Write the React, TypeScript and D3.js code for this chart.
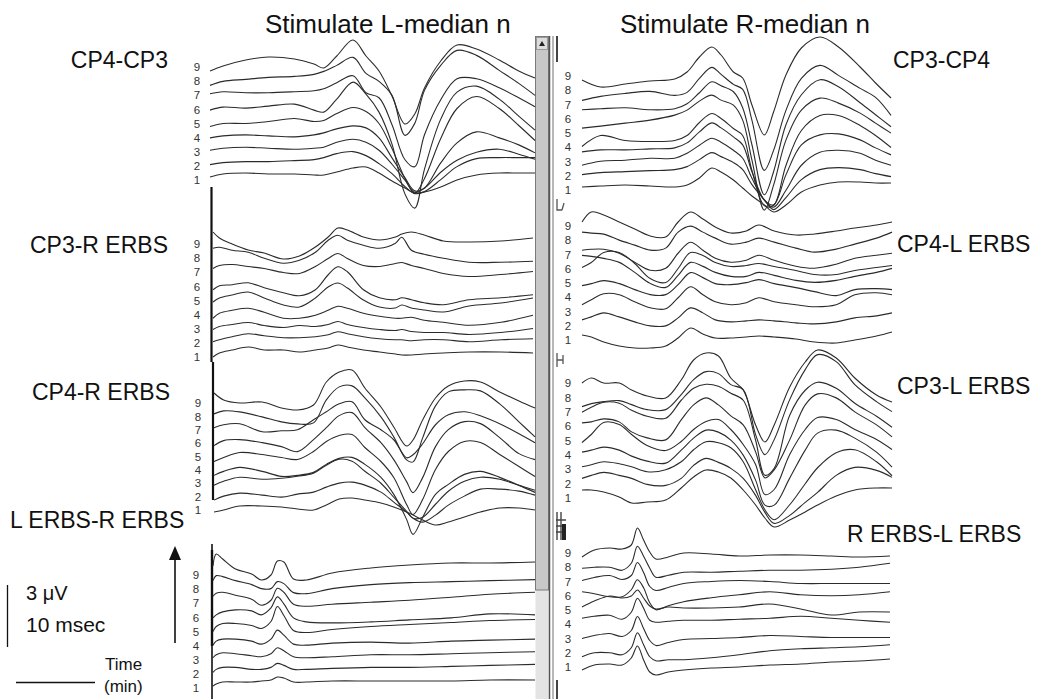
import React from "react";
import * as d3 from "d3";

// trace numbers, top to bottom
const TRACE_IDS = [9, 8, 7, 6, 5, 4, 3, 2, 1];

// sample times (ms) of the read-off knots, per panel
const tL1 = [0, 4, 11, 18, 26, 32, 35, 39, 44, 48, 52, 56, 60, 63, 66, 71, 76, 82, 89, 95, 100];
const tL2 = [0, 2, 6, 11, 16, 22, 27, 32, 36, 39, 42, 47, 52, 57, 59, 62, 66, 72, 80, 90, 100];
const tL3 = [0, 3, 8, 15, 21, 26, 31, 35, 39, 43, 47, 52, 56, 60, 62, 65, 69, 73, 78, 83, 89, 95, 100];
const tL4 = [0, 1, 3, 7, 12, 15, 18, 20, 22, 25, 29, 37, 49, 61, 74, 86, 100];
const tR1 = [0, 6, 14, 22, 30, 34, 38, 42, 45, 49, 52, 55, 59, 62, 66, 71, 77, 83, 90, 95, 100];
const tR2 = [0, 3, 7, 12, 17, 22, 27, 31, 35, 39, 43, 48, 53, 57, 62, 69, 75, 82, 88, 95, 100];
const tR3 = [0, 3, 7, 12, 16, 21, 27, 32, 36, 40, 44, 48, 52, 56, 59, 62, 67, 72, 76, 82, 88, 95, 100];
const tR4 = [0, 4, 9, 13, 16, 18, 20, 22, 24, 28, 33, 42, 51, 61, 71, 81, 90, 100];

// amplitudes in 0.05 uV steps (60 = 3 uV), positive up; rows = traces 9..1
const cp4cp3 = [
  [-3, 2, 8, 11, 9, 4, 0, 12, 28, 12, -3, -28, -56, -46, -20, 7, 23, 19, 8, -3, -10],
  [-4, 0, 2, 4, 5, 7, 10, 16, 24, 8, 0, -14, -54, -42, -9, 16, 31, 26, 11, -2, -14],
  [1, 3, 2, 2, 3, 4, 6, 12, 19, 2, -3, -30, -65, -72, -40, -5, 16, 16, 7, -3, -12],
  [-2, 1, 0, 2, 4, -2, -4, 9, 26, 14, -4, -36, -86, -100, -61, -11, 16, 22, 9, -8, -22],
  [-5, -2, -2, 0, 3, 0, 1, 8, 14, 10, -2, -27, -57, -72, -57, -17, 13, 25, 13, -4, -19],
  [-3, -1, 0, -1, -2, 0, 2, 6, 9, 7, -3, -23, -43, -56, -53, -28, -8, 3, -3, -10, -18],
  [-2, 0, 1, 0, -1, 0, 1, 6, 9, 6, -2, -16, -32, -44, -40, -24, -12, -4, -1, -6, -11],
  [-3, -1, 0, 0, 1, 2, 4, 8, 10, 6, -2, -12, -25, -32, -30, -18, -5, 3, 4, 4, 4],
  [-2, 1, 2, 1, 1, 0, 0, 3, 7, 8, 2, -6, -13, -18, -17, -12, -5, 0, 2, 2, 2],
];
const cp3RErbs = [
  [9, 3, -3, -9, -12, -18, -15, -6, 4, 13, 11, 4, 1, 4, 7, 9, 6, 0, -1, 0, 3],
  [7, 8, 5, 3, -3, -8, -5, 3, 15, 20, 15, 10, 7, 12, 18, 5, 1, -3, -7, -7, -6],
  [1, 4, 5, 3, 1, -3, -4, 3, 11, 16, 11, 4, 3, 6, 7, 4, 1, -4, -7, -5, -2],
  [-6, -2, -1, 1, -4, -9, -12, -6, 9, 17, 12, -6, -14, -16, -14, -16, -19, -21, -16, -14, -11],
  [-4, 0, 3, 6, 0, -7, -9, 0, 11, 15, 10, -2, -9, -10, -7, -10, -12, -14, -8, -5, 0],
  [-6, -1, 2, 4, 0, -6, -6, -3, 2, 6, 4, -1, -4, -6, -6, -5, -8, -10, -13, -10, -3],
  [-3, 0, 2, 4, 1, -1, 1, 0, 2, 5, 2, -1, -3, -4, -3, -5, -6, -6, -8, -6, -2],
  [-1, 1, 4, 7, 5, 3, 3, 4, 6, 9, 7, 4, 2, 1, 1, 0, 1, 1, -1, 1, 2],
  [-2, 2, 5, 8, 5, 5, 3, 5, 7, 10, 8, 5, 3, 1, 0, 0, 1, 2, 3, 3, 2],
];
const cp4RErbs = [
  [7, 0, -3, -2, -8, -10, -5, 18, 28, 30, 12, -7, -27, -46, -40, -20, 2, 14, 19, 18, 8, -1, -8],
  [0, 3, 2, -3, -8, -10, -9, 14, 27, 28, 16, -3, -23, -46, -48, -24, 8, 22, 24, 23, 10, -8, -23],
  [0, 3, 4, -4, -3, -2, 8, 16, 24, 26, 8, -2, -12, -30, -27, -16, 3, 13, 16, 12, 4, -6, -15],
  [-4, 1, 2, -1, -5, -10, 2, 14, 26, 29, 14, -1, -18, -40, -51, -36, -5, 12, 20, 18, 4, -12, -18],
  [-6, -2, 3, 1, -2, -4, 4, 14, 20, 21, 8, -6, -22, -49, -59, -44, -14, 4, 14, 13, 1, -11, -21],
  [-6, -2, 2, -2, -7, -6, -3, 5, 11, 12, 5, -8, -25, -50, -65, -48, -25, -15, -5, -2, -8, -16, -23],
  [-2, 2, 6, 4, 5, 7, 10, 18, 24, 22, 12, 0, -14, -28, -35, -34, -21, -8, 2, 6, 4, -2, -7],
  [-3, 1, 4, 2, 0, 3, 5, 10, 14, 15, 12, 5, -5, -15, -21, -25, -18, -8, 1, 8, 8, 6, 2],
  [-1, 1, 5, 5, 4, 2, 1, 6, 12, 13, 11, 8, 4, -1, -4, -9, -14, -11, -6, -1, 3, 3, 1],
];
const lErbsRErbs = [
  [7, 19, 14, 4, -1, -7, -2, 12, 11, -6, -7, 0, 5, 8, 10, 10, 11],
  [6, 11, 10, 6, 2, -2, -2, 5, 3, -6, -7, -2, 2, 4, 5, 6, 7],
  [4, 7, 8, 5, 1, -5, 0, 12, 8, -4, -6, -4, -2, 0, 3, 6, 8],
  [-4, -1, 2, 4, 3, -1, 6, 17, 10, -4, -8, -9, -8, -6, -4, 0, -1],
  [-4, 1, 4, 4, 2, -1, 6, 21, 12, -3, -5, -2, 1, 3, 5, 7, 8],
  [-4, 0, 2, 2, 0, -3, 2, 11, 6, -3, -4, -2, -1, -2, 0, 1, 2],
  [-3, 0, 2, 1, -1, -2, 1, 7, 4, -2, -3, -2, 0, 0, 1, 2, 3],
  [-4, -1, 1, 1, -1, -1, 1, 5, 3, -1, -1, 0, 1, 1, 2, 3, 4],
  [-4, -2, 0, 0, 0, 1, 2, 5, 4, 0, 0, 1, 1, 1, 1, 2, 2],
];
const cp3cp4 = [
  [0, -7, -4, -1, 1, 8, 23, 33, 25, 8, 2, -25, -55, -32, 5, 32, 43, 33, 13, -3, -18],
  [-7, -3, 0, 2, -2, 1, 15, 26, 19, 9, 4, -27, -77, -57, -17, 15, 28, 18, 5, -4, -22],
  [-3, -2, -1, -3, -2, 3, 14, 25, 21, 15, -1, -38, -88, -65, -18, 12, 27, 20, 4, -8, -20],
  [-8, -6, -3, 0, 5, 10, 19, 25, 20, 15, 0, -40, -90, -65, -20, 10, 22, 17, 7, -3, -13],
  [-13, -2, -7, -8, -7, -2, 11, 20, 15, 5, -2, -37, -72, -72, -32, 3, 18, 18, 8, -2, -14],
  [-5, -3, -3, -2, -1, 4, 15, 24, 19, 10, 2, -25, -53, -58, -28, 2, 12, 13, 7, -1, -8],
  [-5, -1, 0, 2, 2, 7, 15, 22, 18, 10, 2, -18, -40, -47, -30, -5, 8, 10, 7, 0, -5],
  [-1, 1, 2, 3, 4, 7, 14, 21, 17, 11, 4, -11, -26, -36, -24, -6, 4, 6, 4, 0, -3],
  [0, 1, 2, 1, 0, 2, 9, 19, 15, 7, -1, -9, -18, -25, -18, -5, 2, 5, 5, 4, 4],
];
const cp4LErbs = [
  [0, 10, 7, 0, -7, -14, -15, 0, 10, 3, -5, -11, -9, -3, -9, -13, -12, -9, -6, -3, 0],
  [4, 3, 2, -4, -9, -14, -12, 4, 10, 4, -2, -8, -6, -2, -6, -12, -16, -13, -8, -2, 4],
  [0, 1, 1, -3, -12, -20, -18, -3, 8, 0, -8, -12, -10, -5, -10, -16, -18, -14, -8, -5, -3],
  [9, 8, 6, 2, -8, -19, -23, -11, 2, -2, -8, -12, -12, -8, -11, -16, -18, -16, -12, -8, -4],
  [11, 16, 26, 26, 15, 0, -4, 10, 26, 23, 16, 12, 13, 15, 12, 8, 4, 4, 8, 11, 13],
  [7, 9, 12, 9, 3, -2, -2, 8, 20, 15, 9, 8, 10, 13, 9, 5, 1, -3, 3, 4, 3],
  [2, 7, 13, 12, 5, -1, -2, 9, 20, 12, 5, 2, 4, 9, 5, 2, 0, 2, 12, 14, 12],
  [1, 4, 8, 4, -1, -5, -5, 3, 13, 8, 1, -1, 0, 1, 0, -2, -3, -1, 3, 5, 8],
  [0, -2, -7, -11, -13, -13, -11, -3, 7, 1, -3, -3, -2, -1, -2, -4, -7, -8, -5, -1, 3],
];
const cp3LErbs = [
  [0, 5, 0, 0, -7, -13, -15, 3, 23, 30, 27, 5, -7, -42, -59, -42, -4, 21, 33, 25, 5, -12, -19],
  [-10, -7, -5, -4, -8, -13, -13, 2, 17, 25, 23, 12, 7, -38, -58, -43, -3, 27, 42, 35, 12, -5, -15],
  [-2, 3, 8, 7, 0, -6, -8, 10, 22, 26, 24, 17, 10, -30, -65, -58, -5, 20, 28, 22, 7, -6, -17],
  [1, 2, 5, 2, -8, -14, -16, 4, 19, 26, 19, 8, -1, -28, -54, -46, -16, 19, 30, 26, 12, -1, -13],
  [-5, 3, 15, 13, 3, -8, -13, -4, 8, 16, 18, 8, -7, -27, -57, -52, -17, 8, 20, 18, 8, -2, -12],
  [-1, 1, 4, 1, -5, -10, -12, 1, 13, 21, 19, 11, -4, -29, -54, -54, -27, 1, 18, 21, 13, -1, -16],
  [-2, 0, 3, 1, -2, -7, -5, 3, 15, 23, 22, 17, 3, -25, -45, -55, -40, -19, -3, 12, 15, 3, -11],
  [0, 3, 6, 3, 0, -6, -7, 0, 13, 20, 16, 10, 0, -17, -34, -45, -37, -24, -14, 3, 11, 8, 1],
  [2, 2, 0, -5, -11, -10, -8, 4, 15, 22, 20, 14, 2, -13, -26, -35, -28, -20, -13, -4, 2, 4, 4],
];
const rErbsLErbs = [
  [-2, 5, 7, 6, 10, 27, 15, 3, -4, -2, 2, 1, -1, 0, 0, -1, -2, -1],
  [1, 2, 2, -1, 6, 23, 13, 1, -8, -6, -3, -3, -2, -1, -1, 0, 2, 6],
  [3, 6, 8, 4, 8, 21, 11, -3, -7, -4, 0, 2, 3, 2, 0, 0, 0, 0],
  [6, 4, 1, 1, 8, 18, 10, -5, -12, -8, -4, 0, 3, 6, 3, 2, 3, 6],
  [5, 11, 16, 14, 16, 22, 14, 6, 3, 5, 4, 4, 5, 8, 3, -3, 0, 0],
  [8, 10, 11, 7, 14, 28, 18, 6, 4, 5, 6, 6, 7, 8, 10, 8, 6, 4],
  [2, 5, 7, 4, 10, 24, 12, 0, -5, -2, 1, 2, 3, 5, 4, 3, 3, 3],
  [-2, 2, 2, 0, 7, 22, 10, -2, -6, -5, -5, -3, 0, 4, 6, 7, 8, 10],
  [-1, 4, 5, 4, 11, 23, 9, -3, -6, -3, -1, 1, 2, 4, 5, 7, 8, 10],
];

const titles = ["Stimulate L-median n", "Stimulate R-median n"];

const FONT = "'Liberation Sans', Arial, Helvetica, sans-serif";
const INK = "#2b2b2b";

// 60 units = 3 uV = 60 px, up is negative y
const amp = d3.scaleLinear().domain([0, 60]).range([0, -60]);

const panels = [
  { name: "CP4-CP3", times: tL1, traces: cp4cp3, x: [210, 535], base: [68, 175], lab: [67, 180], labX: 197,
    nameX: 168, nameY: 68, anchor: "end" },
  { name: "CP3-R ERBS", times: tL2, traces: cp3RErbs, x: [213, 533], base: [241, 355], lab: [244, 357], labX: 197,
    nameX: 168, nameY: 253, anchor: "end" },
  { name: "CP4-R ERBS", times: tL3, traces: cp4RErbs, x: [214, 535], base: [400, 511], lab: [403, 510], labX: 198,
    nameX: 170, nameY: 400, anchor: "end" },
  { name: "L ERBS-R ERBS", times: tL4, traces: lErbsRErbs, x: [213, 535], base: [573, 682], lab: [575, 688], labX: 196,
    nameX: 10, nameY: 528, anchor: "start" },
  { name: "CP3-CP4", times: tR1, traces: cp3cp4, x: [582, 891], base: [80, 187], lab: [76, 190], labX: 568,
    nameX: 893, nameY: 68, anchor: "start" },
  { name: "CP4-L ERBS", times: tR2, traces: cp4LErbs, x: [582, 892], base: [222, 335], lab: [226, 340], labX: 568,
    nameX: 897, nameY: 252, anchor: "start" },
  { name: "CP3-L ERBS", times: tR3, traces: cp3LErbs, x: [582, 892], base: [383, 492], lab: [383, 498], labX: 568,
    nameX: 897, nameY: 394, anchor: "start" },
  { name: "R ERBS-L ERBS", times: tR4, traces: rErbsLErbs, x: [582, 890], base: [555, 669], lab: [553, 667], labX: 568,
    nameX: 847, nameY: 542, anchor: "start" },
];

function Panel({ p }: { p: any }) {
  const x = d3.scaleLinear().domain([0, 100]).range(p.x);
  const base = d3.scalePoint<number>().domain(TRACE_IDS).range(p.base);
  const labY = d3.scalePoint<number>().domain(TRACE_IDS).range(p.lab);

  return (
    <g>
      {p.traces.map((vals: number[], i: number) => {
        const id = TRACE_IDS[i];
        const line = d3
          .line<number>()
          .x((_, k) => x(p.times[k]))
          .y((v) => (base(id) as number) + amp(v))
          .curve(d3.curveCatmullRom.alpha(0.5));
        return <path key={id} d={line(vals) || ""} fill="none" stroke={INK} strokeWidth={1.1} />;
      })}
      {TRACE_IDS.map((id) => (
        <text key={"l" + id} x={p.labX} y={labY(id)} dy="0.36em" textAnchor="middle"
          fontSize={11.5} fill="#333" fontFamily={FONT}>
          {id}
        </text>
      ))}
      <text x={p.nameX} y={p.nameY} textAnchor={p.anchor} fontSize={23} fill="#111" fontFamily={FONT}>
        {p.name}
      </text>
    </g>
  );
}

export default function App() {
  return (
    <svg width={1050} height={699} style={{ position: "absolute", left: 0, top: 0, background: "#fff" }}>
      {/* titles */}
      <text x={265} y={33} fontSize={26} fontFamily={FONT} fill="#111">{titles[0]}</text>
      <text x={620} y={33} fontSize={26} fontFamily={FONT} fill="#111">{titles[1]}</text>

      {/* scroll bar between the two columns */}
      <rect x={535.5} y={590} width={13} height={109} fill="#e4e4e4" />
      <rect x={535.5} y={36.5} width={13} height={553.5} fill="#c8c8c8" stroke="#7a7a7a" />
      <rect x={536.5} y={37.5} width={11} height={12} fill="#dcdcdc" stroke="#9a9a9a" />
      <path d="M539,46 L542,41 L545,46 Z" fill="#222" />
      <line x1={549.5} x2={549.5} y1={36} y2={699} stroke="#555" strokeWidth={1.5} />
      <line x1={553} x2={553} y1={36} y2={699} stroke="#888" strokeWidth={1.2} />

      {/* small markers on the right column edge */}
      <line x1={557} x2={557} y1={36} y2={62} stroke="#444" strokeWidth={2} />
      <path d="M557,199 V210 H562 M562,210 L564,203" fill="none" stroke="#555" strokeWidth={1.3} />
      <path d="M557,353 V367 M557,360 H563 M563,355 V364" fill="none" stroke="#555" strokeWidth={1.3} />
      <path d="M557,512 V540 M561,512 V540 M556,520 H566 M556,526 H566 M556,532 H566" fill="none" stroke="#444" strokeWidth={1.4} />
      <rect x={562} y={524} width={4} height={16} fill="#222" />
      <line x1={557} x2={557} y1={680} y2={699} stroke="#444" strokeWidth={2} />

      {/* stimulus artefact lines at the left of the left column */}
      <line x1={211.5} x2={211.5} y1={187} y2={362} stroke="#111" strokeWidth={2.2} />
      <line x1={213} x2={213} y1={362} y2={500} stroke="#111" strokeWidth={2.2} />
      <line x1={212} x2={212} y1={544} y2={699} stroke="#111" strokeWidth={1.6} />
      <line x1={212} x2={212} y1={550} y2={646} stroke="#111" strokeWidth={2.4} />

      {panels.map((p) => (
        <Panel key={p.name} p={p} />
      ))}

      {/* calibration */}
      <line x1={7.5} x2={7.5} y1={585} y2={647} stroke="#111" strokeWidth={1.3} />
      <text x={26} y={600} fontSize={20} fontFamily={FONT} fill="#111">3 μV</text>
      <text x={26} y={632} fontSize={21} fontFamily={FONT} fill="#111">10 msec</text>
      <line x1={175} x2={175} y1={643} y2={556} stroke="#111" strokeWidth={1.6} />
      <path d="M169,560 L175,546 L181,560 Z" fill="#111" />
      <line x1={16} x2={95} y1={682.5} y2={682.5} stroke="#111" strokeWidth={1.3} />
      <text x={105} y={670} fontSize={17} fontFamily={FONT} fill="#111">Time</text>
      <text x={104} y={692} fontSize={17} fontFamily={FONT} fill="#111">(min)</text>
    </svg>
  );
}
